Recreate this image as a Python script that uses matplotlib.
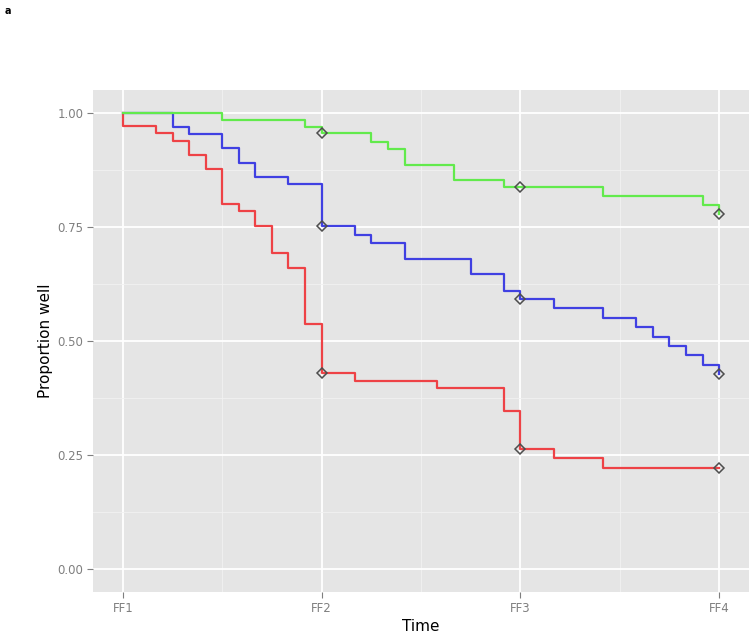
import matplotlib
matplotlib.use("Agg")
import matplotlib.pyplot as plt
from matplotlib.ticker import MultipleLocator

# ---- data ----
x_labels = ["FF1", "FF2", "FF3", "FF4"]
y_ticks = [0.00, 0.25, 0.50, 0.75, 1.00]

red_t = [1.0, 1.0, 1.167, 1.25, 1.333, 1.417, 1.5, 1.583, 1.667, 1.75, 1.833, 1.917,
         2.0, 2.167, 2.583, 2.917, 3.0, 3.167, 3.417, 4.0]
red_s = [1.0, 0.971, 0.955, 0.939, 0.908, 0.877, 0.800, 0.784, 0.753, 0.692, 0.661, 0.537,
         0.429, 0.413, 0.398, 0.346, 0.263, 0.243, 0.222, 0.222]

blue_t = [1.0, 1.25, 1.333, 1.5, 1.583, 1.667, 1.833, 2.0, 2.167, 2.25, 2.417, 2.75,
          2.917, 3.0, 3.167, 3.417, 3.583, 3.667, 3.75, 3.833, 3.917, 4.0]
blue_s = [1.0, 0.969, 0.954, 0.922, 0.891, 0.859, 0.844, 0.751, 0.732, 0.714, 0.680, 0.646,
          0.610, 0.592, 0.572, 0.551, 0.530, 0.509, 0.489, 0.469, 0.447, 0.428]

green_t = [1.0, 1.5, 1.917, 2.0, 2.25, 2.333, 2.417, 2.667, 2.917, 3.417, 3.917, 4.0]
green_s = [1.0, 0.985, 0.970, 0.955, 0.937, 0.920, 0.886, 0.853, 0.837, 0.817, 0.798, 0.779]

marker_t = [2, 3, 4]
red_m = [0.429, 0.263, 0.222]
blue_m = [0.751, 0.592, 0.428]
green_m = [0.955, 0.837, 0.779]

# ---- figure ----
fig = plt.figure(figsize=(7.5, 6.33), dpi=100)
ax = fig.add_axes([93 / 750, 1 - 592 / 633, 656 / 750, 502 / 633])
ax.set_facecolor("#E5E5E5")
ax.set_xlim(0.85, 4.15)
ax.set_ylim(-0.05, 1.05)

# grid
ax.xaxis.set_minor_locator(MultipleLocator(0.5))
ax.yaxis.set_minor_locator(MultipleLocator(0.125))
ax.grid(True, which="minor", color="#F2F2F2", linewidth=0.6)
ax.grid(True, which="major", color="white", linewidth=1.3)
ax.set_axisbelow(True)
for s in ax.spines.values():
    s.set_visible(False)

series = [
    (red_t, red_s, red_m, "#EE4246"),
    (blue_t, blue_s, blue_m, "#4040E2"),
    (green_t, green_s, green_m, "#62EA4C"),
]
for t, s, m, c in series:
    ax.step(t, s, where="post", color=c, linewidth=1.6, zorder=3)
for t, s, m, c in series:
    ax.plot(marker_t, m, linestyle="none", marker="D", markersize=5.5,
            markerfacecolor="none", markeredgecolor="#4D4D4D", markeredgewidth=1.1, zorder=4)

ax.set_xticks([1, 2, 3, 4])
ax.set_xticklabels(x_labels)
ax.set_yticks(y_ticks)
ax.set_yticklabels([f"{v:.2f}" for v in y_ticks])
ax.tick_params(axis="both", which="major", length=4, width=0.8, color="#7F7F7F",
               labelcolor="#7F7F7F", labelsize=8.5, pad=3)
ax.tick_params(axis="both", which="minor", length=0)

ax.set_xlabel("Time", fontsize=11, labelpad=3)
ax.set_ylabel("Proportion well", fontsize=11, labelpad=3)

fig.text(5 / 750, 1 - 11 / 633, "a", fontsize=7, fontweight="bold", va="center", ha="left")

fig.savefig("out.png", dpi=100)
